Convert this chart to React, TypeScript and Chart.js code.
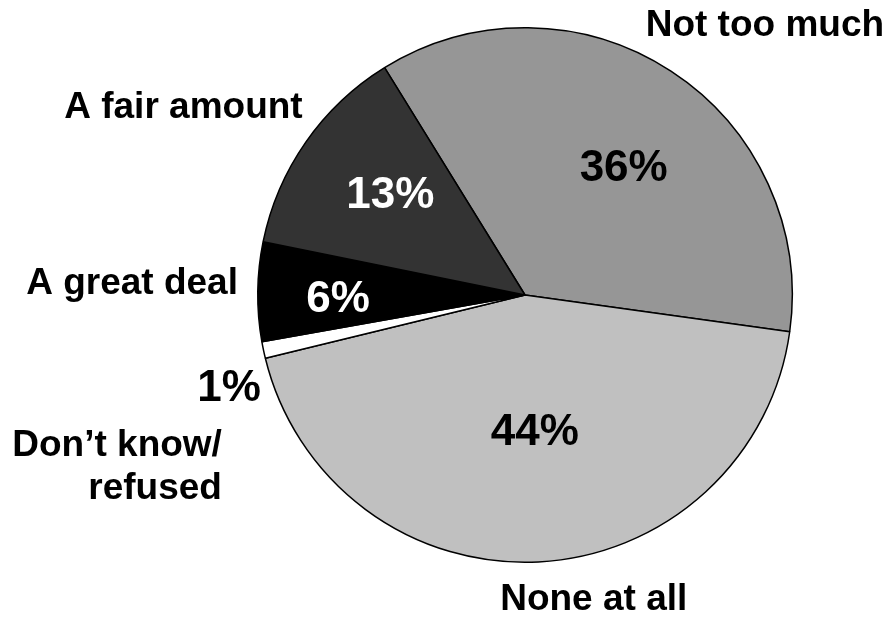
import React, { useEffect, useRef } from "react";
import { Chart, registerables } from "chart.js";

Chart.register(...registerables);

// ---- Data ----
const categories = ["Not too much", "None at all", "Don’t know/ refused", "A great deal", "A fair amount"];
const values = [36, 44, 1, 6, 13];
const percentLabels = ["36%", "44%", "1%", "6%", "13%"];
const nameLines = [["Not too much"], ["None at all"], ["Don’t know/", "refused"], ["A great deal"], ["A fair amount"]];

// ---- Styles ----
const sliceColors = ["#969696", "#c0c0c0", "#ffffff", "#000000", "#333333"];
const percentColors = ["#000000", "#000000", "#000000", "#ffffff", "#ffffff"];
const FONT_FAMILY = "'Liberation Sans', Arial, Helvetica, sans-serif";

// label placement relative to each slice: dA = degrees from slice mid-angle, r = fraction of radius
const percentPlacement = [
  { dA: 4.95, r: 0.599, align: "center" },
  { dA: -1.2, r: 0.516, align: "center" },
  { dA: -7.63, r: 1.049, align: "right" },
  { dA: -2.2, r: 0.7, align: "center" },
  { dA: 1.4, r: 0.625, align: "center" },
];
const namePlacement = [
  { dA: 8.65, r: 1.348, align: "center" },
  { dA: -9.8, r: 1.17, align: "center" },
  { dA: -17.75, r: 1.305, align: "right" },
  { dA: 1.6, r: 1.075, align: "right" },
  { dA: 5.16, r: 1.087, align: "right" },
];

const sliceLabelPlugin = {
  id: "sliceLabels",
  afterDatasetsDraw(chart: any) {
    const ctx = chart.ctx as CanvasRenderingContext2D;
    const meta = chart.getDatasetMeta(0);
    meta.data.forEach((arc: any, i: number) => {
      const { x, y, startAngle, endAngle, outerRadius } = arc.getProps(
        ["x", "y", "startAngle", "endAngle", "outerRadius"],
        true
      );
      const mid = (startAngle + endAngle) / 2;
      const draw = (p: any, lines: string[], font: string, color: string, lh: number) => {
        const a = mid + (p.dA * Math.PI) / 180;
        const px = x + Math.cos(a) * outerRadius * p.r;
        const py = y + Math.sin(a) * outerRadius * p.r;
        ctx.save();
        ctx.font = font;
        ctx.fillStyle = color;
        ctx.textAlign = p.align;
        ctx.textBaseline = "middle";
        lines.forEach((ln, k) => {
          ctx.fillText(ln, px, py + (k - (lines.length - 1) / 2) * lh);
        });
        ctx.restore();
      };
      draw(percentPlacement[i], [percentLabels[i]], `bold 44px ${FONT_FAMILY}`, percentColors[i], 0);
      draw(namePlacement[i], nameLines[i], `bold 37px ${FONT_FAMILY}`, "#000000", 43);
    });
  },
};

export default function App() {
  const canvasRef = useRef<HTMLCanvasElement | null>(null);

  useEffect(() => {
    document.body.style.margin = "0";
    document.body.style.background = "#ffffff";
    const canvas = canvasRef.current;
    if (!canvas) return;
    const chart = new Chart(canvas, {
      type: "pie",
      data: {
        labels: categories,
        datasets: [
          {
            data: values,
            backgroundColor: sliceColors,
            borderColor: "#000000",
            borderWidth: 1.5,
          },
        ],
      },
      options: {
        responsive: false,
        animation: false,
        rotation: -31.7,
        layout: { padding: { left: 257, right: 97, top: 27, bottom: 57 } },
        plugins: {
          legend: { display: false },
          tooltip: { enabled: false },
        },
      },
      plugins: [sliceLabelPlugin],
    });
    return () => chart.destroy();
  }, []);

  return (
    <div style={{ width: 890, height: 620, background: "#ffffff" }}>
      <canvas ref={canvasRef} width={890} height={620} style={{ display: "block" }} />
    </div>
  );
}
